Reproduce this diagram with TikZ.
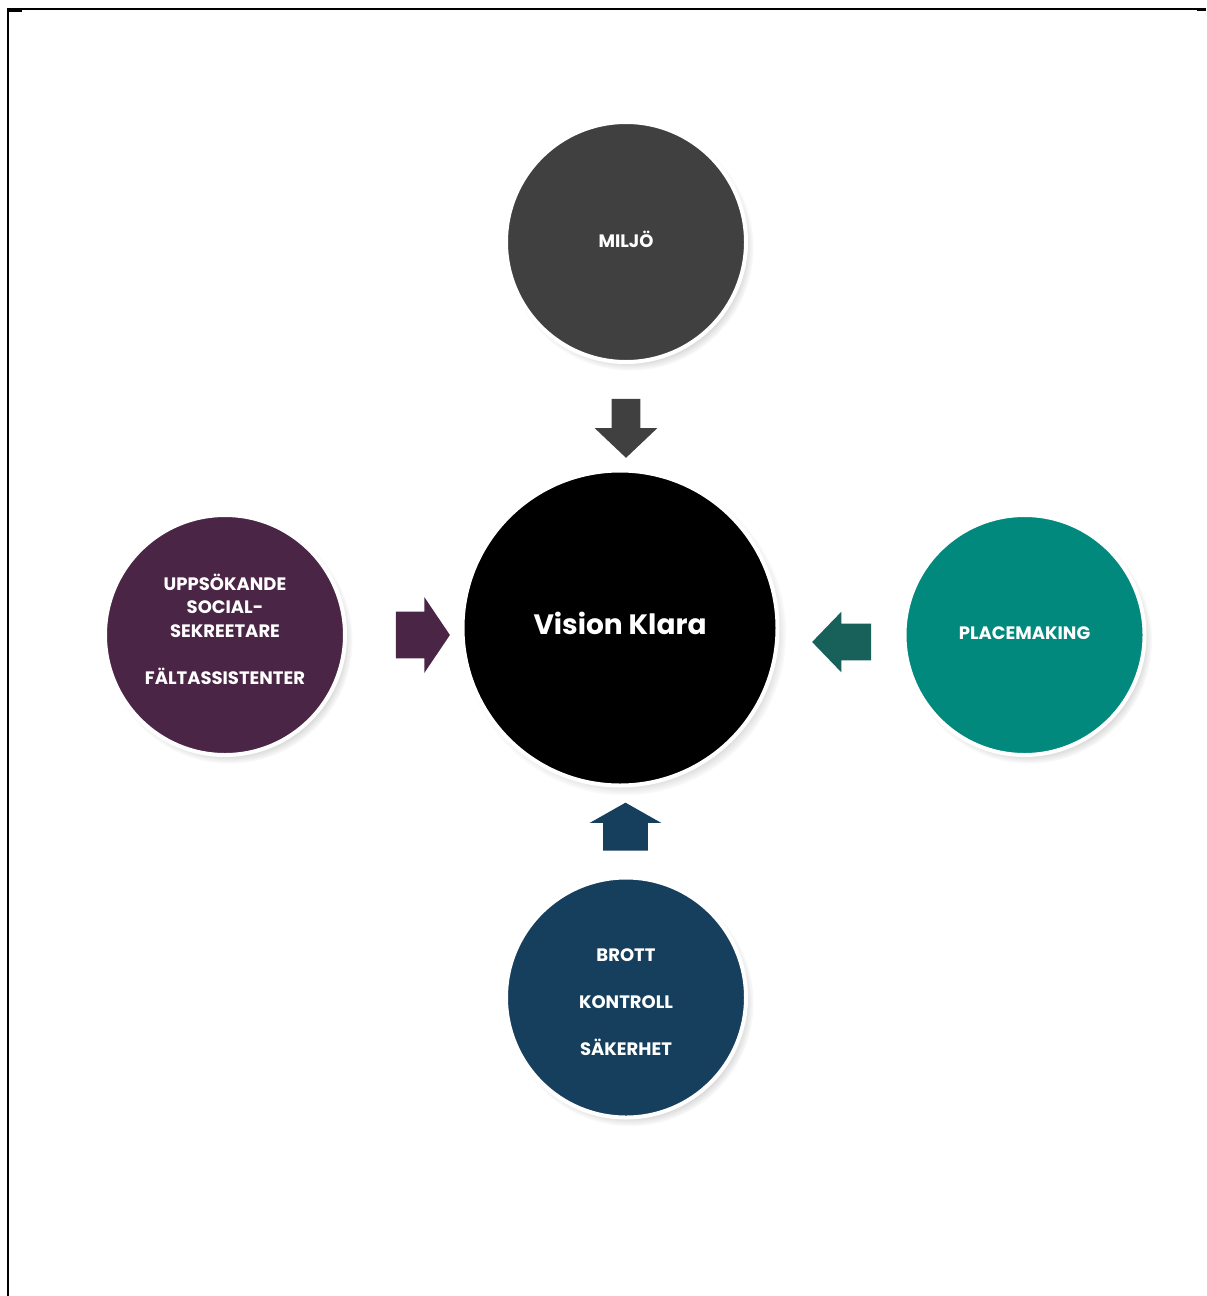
\documentclass[tikz,border=0pt]{standalone}
\usepackage{fontspec}
\setmainfont{Poppins}
\usetikzlibrary{shapes.arrows,shadows}
\definecolor{miljogray}{HTML}{404040}
\definecolor{socialpurple}{HTML}{4A2545}
\definecolor{placeteal}{HTML}{00897C}
\definecolor{placedark}{HTML}{17615A}
\definecolor{brottblue}{HTML}{163F5E}

\begin{document}
\begin{tikzpicture}[x=0.5pt,y=-0.5pt,
  bubble/.style={circle,draw=white,line width=2pt,minimum size=120pt,inner sep=0pt,
    text=white,align=center,font=\bfseries\fontsize{9}{11.75}\selectfont,
    circular drop shadow={shadow xshift=2pt,shadow yshift=-2.5pt,shadow scale=1.03,opacity=.6}},
  blockarrow/.style={single arrow,draw=none,inner xsep=0pt,single arrow head indent=0pt}]
\useasboundingbox (0,0) rectangle (1206,1296);
\draw[line width=1pt] (8,9) -- (1197,9);
\draw[line width=1.5pt] (1197,9.5) -- (1206,9.5);
\draw[line width=1pt] (8,8) -- (8,1296);
\draw[line width=1.5pt] (8,10) -- (22,10);

\node (vision) [bubble,fill=black,minimum size=157.5pt,text depth=5pt,font=\bfseries\fontsize{14}{16}\selectfont] at (620,628) {Vision Klara};
\node (miljo) [bubble,fill=miljogray,text depth=3pt] at (626,242) {MILJÖ};
\node (social) [bubble,fill=socialpurple,text depth=6pt] at (225,635) {UPPSÖKANDE\\SOCIAL-\\SEKREETARE\\[11.75pt]FÄLTASSISTENTER};
\node (place) [bubble,fill=placeteal,text depth=2pt] at (1024.5,635) {PLACEMAKING};
\node (brott) [bubble,fill=brottblue,text height=58pt,text depth=0pt] at (626,997.5) {BROTT\\[11.75pt]KONTROLL\\[11.75pt]SÄKERHET};

\node (miljoarrow) [blockarrow,fill=miljogray,rotate=-90,minimum height=29.5pt,inner ysep=7pt,
  single arrow head extend=8.5pt,single arrow tip angle=93] at (626,421.5) {};
\node (socialarrow) [blockarrow,fill=socialpurple,minimum height=27pt,inner ysep=11.5pt,
  single arrow head extend=7.25pt,single arrow tip angle=112] at (415,635) {};
\node (placearrow) [blockarrow,fill=placedark,rotate=180,minimum height=29.5pt,inner ysep=9pt,
  single arrow head extend=6pt,single arrow tip angle=92] at (850.5,642) {};
\node (brottarrow) [blockarrow,fill=brottblue,rotate=90,minimum height=24pt,inner ysep=11pt,
  single arrow head extend=6.75pt,single arrow tip angle=121] at (625.5,833) {};
\end{tikzpicture}
\end{document}
